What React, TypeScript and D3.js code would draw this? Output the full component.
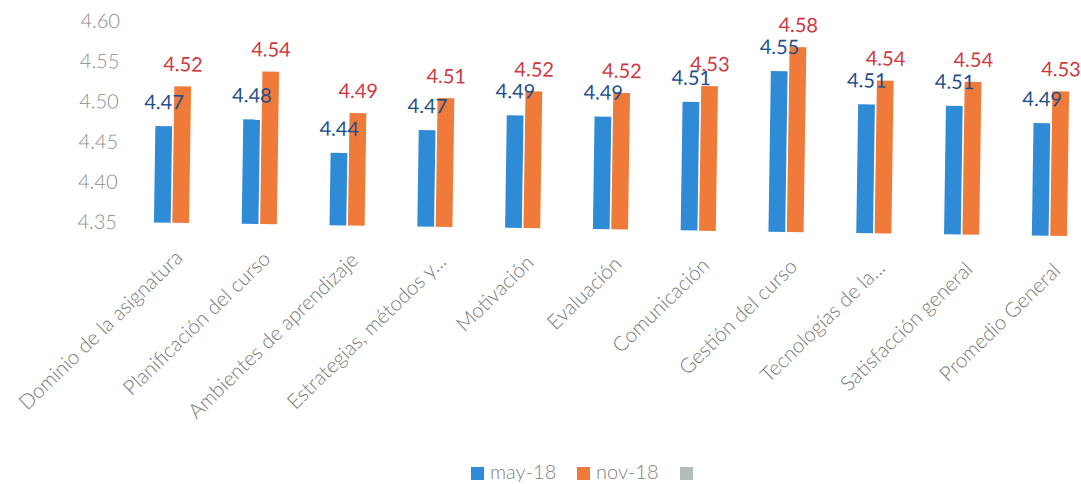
import React from "react";
import * as d3 from "d3";

const categories = [
  "Dominio de la asignatura",
  "Planificación del curso",
  "Ambientes de aprendizaje",
  "Estrategias, métodos y...",
  "Motivación",
  "Evaluación",
  "Comunicación",
  "Gestión del curso",
  "Tecnologías de la...",
  "Satisfacción general",
  "Promedio General",
];
const may18 = [4.47, 4.48, 4.44, 4.47, 4.49, 4.49, 4.51, 4.55, 4.51, 4.51, 4.49];
const nov18 = [4.52, 4.54, 4.49, 4.51, 4.52, 4.52, 4.53, 4.58, 4.54, 4.54, 4.53];
const yTicks = [4.35, 4.4, 4.45, 4.5, 4.55, 4.6];
const seriesNames = ["may-18", "nov-18", ""];

const W = 1081;
const H = 484;
const barColors = ["#2f8bd6", "#f07a3a", "#b4bcbc"];
const labelColors = ["#1f4e8c", "#d0383f"];
const FONT = "Lato, 'Open Sans', sans-serif";

export default function App() {
  const x = d3
    .scaleBand<string>()
    .domain(categories)
    .range([127.6, 127.6 + 87.8 * categories.length])
    .paddingInner(0.6)
    .paddingOuter(0.3);
  const inner = d3
    .scaleBand<string>()
    .domain(["may-18", "nov-18"])
    .range([0, x.bandwidth()])
    .paddingInner(0.09);
  const y = d3.scaleLinear().domain([4.35, 4.6]).range([222, 21]);
  const base = y(4.35);
  const series = [may18, nov18];
  const fmt = d3.format(".2f");
  const bw = inner.bandwidth();
  const bxOf = (c: string, s: number) => (x(c) as number) + (inner(seriesNames[s]) as number);

  return (
    <svg
      width={W}
      height={H}
      style={{ position: "absolute", left: 0, top: 0, background: "#fff" }}
      fontFamily={FONT}
    >
      <rect width={W} height={H} fill="#fff" />
      <g transform="rotate(0.85 117 222)">
        {yTicks.map((t) => (
          <text
            key={t}
            x={117}
            y={y(t)}
            dy="0.36em"
            textAnchor="end"
            fontSize={20}
            fontWeight={300}
            fill="#8c8c8c"
          >
            {fmt(t)}
          </text>
        ))}
        {categories.map((c, i) =>
          series.map((vals, s) => (
            <rect
              key={`${c}-${s}`}
              x={bxOf(c, s)}
              y={y(vals[i])}
              width={bw}
              height={base - y(vals[i])}
              fill={barColors[s]}
            />
          ))
        )}
        {categories.map((c, i) =>
          series.map((vals, s) => (
            <text
              key={`${c}-l${s}`}
              x={bxOf(c, s) + bw / 2}
              y={y(vals[i]) - (s === 0 ? 17 : 15)}
              textAnchor="middle"
              fontSize={20}
              fill={labelColors[s]}
            >
              {fmt(vals[i])}
            </text>
          ))
        )}
        {categories.map((c) => (
          <text
            key={`${c}-cat`}
            transform={`translate(${(x(c) as number) + x.bandwidth() / 2 + 13},${base + 36}) rotate(-45)`}
            textAnchor="end"
            fontSize={20.5}
            fontWeight={300}
            fill="#777777"
          >
            {c}
          </text>
        ))}
      </g>
      <g>
        {seriesNames.map((n, i) => {
          const lx = [471, 577, 680][i];
          return (
            <g key={i}>
              <rect x={lx} y={467} width={13} height={13} fill={barColors[i]} />
              {n && (
                <text x={lx + 19} y={479} fontSize={20} fontWeight={300} fill="#7f7f7f">
                  {n}
                </text>
              )}
            </g>
          );
        })}
      </g>
    </svg>
  );
}
